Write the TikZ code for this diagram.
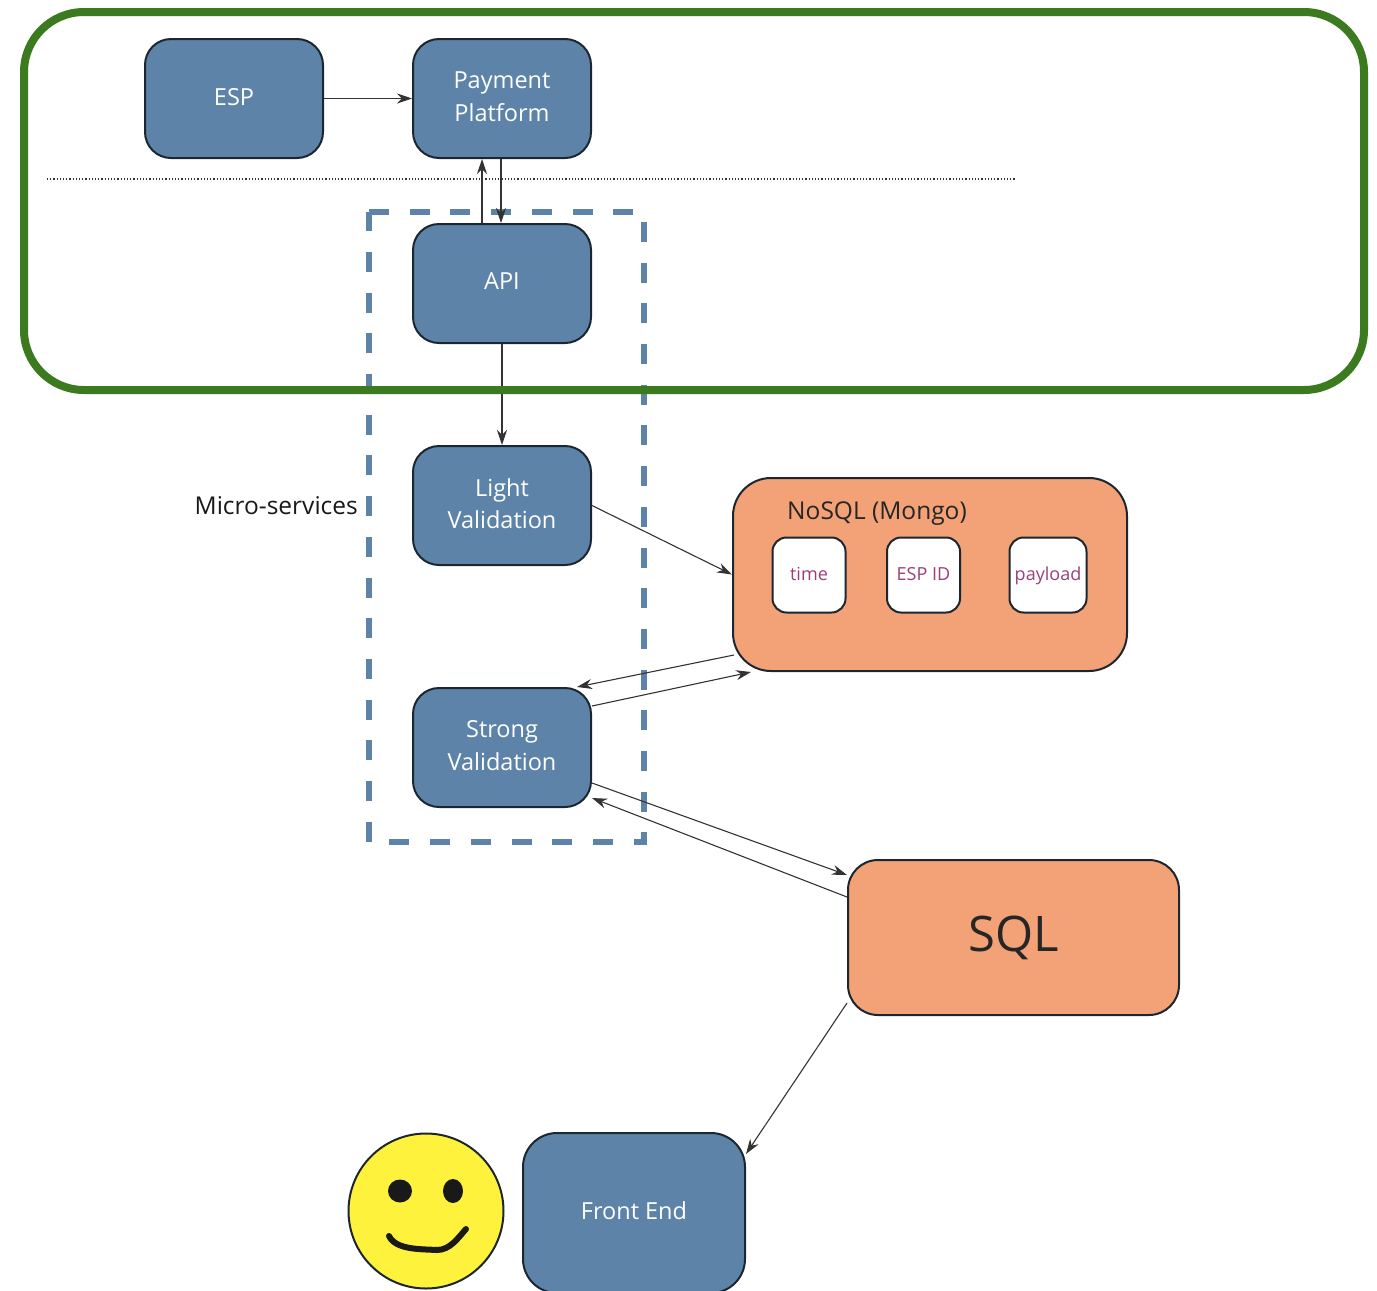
\documentclass[tikz,border=0pt]{standalone}
\usepackage{fontspec}
\setmainfont{Open Sans}
\usetikzlibrary{arrows.meta,shapes.geometric}
\definecolor{boxblue}{HTML}{5D84A8}
\definecolor{boxorange}{HTML}{F3A176}
\definecolor{framegreen}{HTML}{3B7A1E}
\definecolor{fieldtext}{HTML}{9A4078}
\definecolor{facefill}{HTML}{FFF23C}
\definecolor{boxline}{HTML}{1C2630}
\tikzset{
  service/.style={draw=boxline,line width=2pt,fill=boxblue,rounded corners=26pt,text=white,align=center,
    minimum width=178pt,minimum height=119pt,inner sep=0pt,text depth=4pt,font=\fontsize{23.5}{32.5}\selectfont},
  store/.style={draw=boxline,line width=2pt,fill=boxorange,rounded corners=38pt,inner sep=0pt,text=black!85},
  field/.style={draw=boxline,line width=2pt,fill=white,rounded corners=14pt,text=fieldtext,
    minimum height=75pt,inner sep=0pt,text height=14pt,text depth=3pt,font=\fontsize{18}{22}\selectfont},
  link/.style={draw=black!80,line width=1.1pt,-{Stealth[length=15pt,width=10pt]}}
}
\begin{document}
\begin{tikzpicture}[x=1pt,y=-1pt]
\useasboundingbox (0,0) rectangle (1377,1291);

\draw[boxblue,line width=5.5pt,dash pattern=on 20pt off 20.7pt] (369,212) -- (644,212) -- (644,842) -- (369,842) -- cycle;
\draw[black!80,line width=1.2pt,dotted] (47,179) -- (1016,179);

\node[service] (esp) at (234,98.5) {ESP};
\node[service] (platform) at (502,98.5) {Payment\\Platform};
\node[service] (api) at (502,283.5) {API};
\node[service] (light) at (502,505.5) {Light\\Validation};
\node[service] (strong) at (502,747.5) {Strong\\Validation};
\node[service,minimum width=222pt,minimum height=160pt,rounded corners=34pt] (front) at (634,1213) {Front End};

\node[store,minimum width=394pt,minimum height=193pt] (nosql) at (930,574.5) {};
\node[store,minimum width=331pt,minimum height=155pt,rounded corners=30pt,font=\fontsize{49}{58}\selectfont] (sql) at (1013.5,937.5) {SQL};
\node[text=black!85,font=\fontsize{24.5}{30}\selectfont] (nosqltitle) at (877,514) {NoSQL (Mongo)};
\node[field,minimum width=73pt] (time) at (809,575) {time};
\node[field,minimum width=73pt] (espid) at (923.5,575) {ESP ID};
\node[field,minimum width=77pt] (payload) at (1048,575) {payload};

\node[anchor=east,inner sep=0pt,text=black!90,font=\fontsize{24.5}{30}\selectfont] (micro) at (358,506) {Micro-services};

\draw[link] (esp) -- (platform);
\draw[link] ([xshift=-20pt]api.north) -- ([xshift=-20pt]platform.south);
\draw[link] ([xshift=-1pt]platform.south) -- ([xshift=-1pt]api.north);
\draw[link] (api) -- (light);
\draw[link] (light.east) -- (nosql.west);
\draw[link] ([xshift=2pt,yshift=17pt]nosql.south west) -- ([xshift=-15pt]strong.north east);
\draw[link] ([yshift=-19pt]strong.north east) -- ([xshift=19pt]nosql.south west);
\draw[link] ([yshift=-35.5pt]strong.east) -- ([yshift=-16pt]sql.north west);
\draw[link] ([yshift=-38pt]sql.north west) -- ([yshift=-50.5pt]strong.east);
\draw[link] ([yshift=13pt]sql.south west) -- ([yshift=-22pt]front.north east);

\node[draw=boxline,line width=2pt,fill=facefill,circle,minimum size=155pt,inner sep=0pt] (face) at (426,1211) {};
\node[fill=black!90,ellipse,minimum width=24pt,minimum height=23pt,inner sep=0pt] (lefteye) at (400,1191) {};
\node[fill=black!90,ellipse,minimum width=20pt,minimum height=24pt,inner sep=0pt] (righteye) at (453,1191) {};
\draw[black!90,line width=6pt,line cap=round] (389,1236) .. controls (396,1250) and (420,1249) .. (437,1250) .. controls (450,1250) and (458,1238) .. (466,1229);

\draw[framegreen,line width=8pt,rounded corners=60pt] (24,12) rectangle (1364,390);
\end{tikzpicture}
\end{document}
